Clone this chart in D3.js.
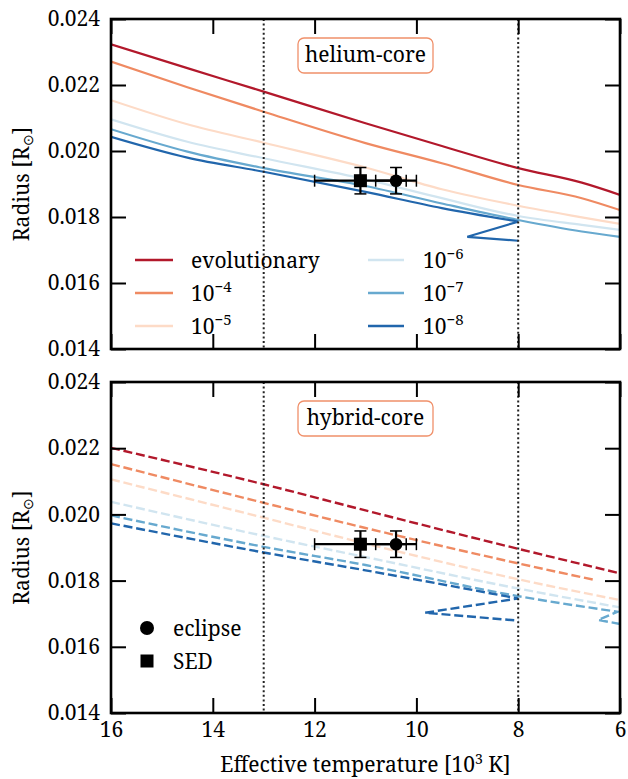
<!DOCTYPE html>
<html>
<head>
<meta charset="utf-8">
<script src="https://cdn.jsdelivr.net/npm/d3@7"></script>
<style>
  html, body { margin: 0; padding: 0; background: #fff; }
  svg { display: block; }
  svg text { font-family: "Noto Serif", "Liberation Serif", serif; }
</style>
</head>
<body>
<svg id="chart" width="628" height="779"></svg>
<script>
// ---- data -----------------------------------------------------------
// Effective temperature in 10^3 K, radius in solar radii.
const seriesColors = ["#b2182b", "#ef8a62", "#fddbc7", "#d1e5f0", "#67a9cf", "#2166ac"];
const seriesBase   = ["evolutionary", "10", "10", "10", "10", "10"];
const seriesExp    = ["", "\u22124", "\u22125", "\u22126", "\u22127", "\u22128"];

// helium-core tracks (solid)
const heTemp  = [16, 14.5, 13, 11, 9.5, 8, 6.75, 6];
const heEvol  = [0.02323, 0.02251, 0.02180, 0.02084, 0.02015, 0.01948, 0.01904, 0.01867];
const heM4    = [0.02271, 0.02193, 0.02119, 0.02024, 0.01963, 0.01897, 0.01857, 0.01821];
const heM5    = [0.02154, 0.02081, 0.02025, 0.01950, 0.01884, 0.01834, 0.01799, 0.01779];
const heM6    = [0.02096, 0.02028, 0.01978, 0.01914, 0.01857, 0.01803, 0.01776, 0.01761];
const heM7    = [0.02066, 0.01998, 0.01948, 0.01894, 0.01841, 0.01791, 0.01756, 0.01740];
const heM8Temp = [16, 14.5, 13, 11, 9.5, 8];
const heM8    = [0.02043, 0.01980, 0.01937, 0.01876, 0.01827, 0.01786];
const heM8TailTemp = [9.0, 8.0];
const heM8Tail     = [0.01740, 0.01728];

// hybrid-core tracks (dashed)
const hyTemp   = [16, 13, 11, 8, 6];
const hyEvol   = [0.02201, 0.02091, 0.02012, 0.01896, 0.01822];
const hyM4Temp = [16, 13, 11, 8, 6.5];
const hyM4     = [0.02152, 0.02035, 0.01959, 0.01852, 0.01802];
const hyM5     = [0.02106, 0.01990, 0.01912, 0.01804, 0.01741];
const hyM6     = [0.02038, 0.01935, 0.01871, 0.01776, 0.01719];
const hyM7Temp = [16, 13, 11, 8, 6.05];
const hyM7     = [0.01997, 0.01902, 0.01847, 0.01753, 0.01706];
const hyM7TailTemp = [6.43, 6.0];
const hyM7Tail     = [0.01681, 0.01669];
const hyM8Temp = [16, 13, 11, 8];
const hyM8     = [0.01973, 0.01885, 0.01831, 0.01746];
const hyM8TailTemp = [9.83, 8.0];
const hyM8Tail     = [0.01703, 0.01679];

// measurements: temperature, temp error, radius, radius error
const obsNames   = ["eclipse", "SED"];
const obsTemp    = [10.4, 11.1];
const obsTempErr = [0.4, 0.9];
const obsRad     = [0.0191, 0.0191];
const obsRadErr  = [0.0004, 0.0004];

const boundaryTemps = [13, 8];
const xTicks = [16, 14, 12, 10, 8, 6];
const yTicks = [0.014, 0.016, 0.018, 0.020, 0.022, 0.024];
const panelTags = ["helium-core", "hybrid-core"];

// ---- layout ---------------------------------------------------------
const FONT = '"Noto Serif", "Liberation Serif", serif';
const FS = 21;
const svg = d3.select("#chart");
const left = 111, right = 620;
const panels = [
  { top: 19, bottom: 349, dashed: false, tag: panelTags[0], xLabels: false,
    series: [
      { t: heTemp, r: heEvol }, { t: heTemp, r: heM4 }, { t: heTemp, r: heM5 },
      { t: heTemp, r: heM6 }, { t: heTemp, r: heM7 },
      { t: heM8Temp, r: heM8, tt: heM8TailTemp, tr: heM8Tail }
    ] },
  { top: 382, bottom: 713, dashed: true, tag: panelTags[1], xLabels: true,
    series: [
      { t: hyTemp, r: hyEvol }, { t: hyM4Temp, r: hyM4 }, { t: hyTemp, r: hyM5 },
      { t: hyTemp, r: hyM6 }, { t: hyM7Temp, r: hyM7, tt: hyM7TailTemp, tr: hyM7Tail },
      { t: hyM8Temp, r: hyM8, tt: hyM8TailTemp, tr: hyM8Tail }
    ] }
];

const x = d3.scaleLinear().domain([16, 6]).range([left, right]);

function textStyle(sel) {
  return sel.style("font-family", FONT).style("font-size", FS + "px").attr("fill", "#000");
}

function styleAxis(g) {
  g.select(".domain").remove();
  g.selectAll(".tick line").attr("stroke", "#000").attr("stroke-width", 2);
  g.selectAll("text").call(textStyle);
  g.attr("font-family", null).attr("font-size", null);
}

panels.forEach((p, pi) => {
  const y = d3.scaleLinear().domain([0.014, 0.024]).range([p.bottom, p.top]);
  const g = svg.append("g");
  const clipId = "clip" + pi;
  svg.append("clipPath").attr("id", clipId).append("rect")
    .attr("x", left).attr("y", p.top).attr("width", right - left).attr("height", p.bottom - p.top);

  const plot = g.append("g").attr("clip-path", `url(#${clipId})`);

  const smooth = d3.line().x(d => x(d[0])).y(d => y(d[1])).curve(d3.curveMonotoneX);
  const straight = d3.line().x(d => x(d[0])).y(d => y(d[1]));

  p.series.forEach((s, i) => {
    const pts = s.t.map((t, j) => [t, s.r[j]]);
    let d = smooth(pts);
    if (s.tt) {
      const tail = [pts[pts.length - 1]].concat(s.tt.map((t, j) => [t, s.tr[j]]));
      d += straight(tail).replace(/^M/, "L");
    }
    const path = plot.append("path").attr("d", d)
      .attr("fill", "none").attr("stroke", seriesColors[i])
      .attr("stroke-width", p.dashed ? 2.4 : 2.2).attr("stroke-linejoin", "miter");
    if (p.dashed) path.attr("stroke-dasharray", "9,3.8");
  });

  // boundary temperatures
  boundaryTemps.forEach(t => {
    g.append("line").attr("x1", x(t)).attr("x2", x(t))
      .attr("y1", p.top).attr("y2", p.bottom)
      .attr("stroke", "#222").attr("stroke-width", 2)
      .attr("stroke-dasharray", "2,2.6");
  });

  // measurements with error bars
  obsNames.forEach((name, k) => {
    const cx = x(obsTemp[k]), cy = y(obsRad[k]);
    const xl = x(obsTemp[k] + obsTempErr[k]), xr = x(obsTemp[k] - obsTempErr[k]);
    const yt = y(obsRad[k] + obsRadErr[k]), yb = y(obsRad[k] - obsRadErr[k]);
    const eb = g.append("g").attr("stroke", "#000");
    eb.append("line").attr("x1", xl).attr("x2", xr).attr("y1", cy).attr("y2", cy).attr("stroke-width", 2.2);
    eb.append("line").attr("x1", cx).attr("x2", cx).attr("y1", yt).attr("y2", yb).attr("stroke-width", 2.2);
    [xl, xr].forEach(xx => eb.append("line").attr("x1", xx).attr("x2", xx)
      .attr("y1", cy - 6).attr("y2", cy + 6).attr("stroke-width", 1.5));
    [yt, yb].forEach(yy => eb.append("line").attr("y1", yy).attr("y2", yy)
      .attr("x1", cx - 6).attr("x2", cx + 6).attr("stroke-width", 1.5));
    if (name === "eclipse") {
      g.append("circle").attr("cx", cx).attr("cy", cy).attr("r", 6.3).attr("fill", "#000");
    } else {
      g.append("rect").attr("x", cx - 6.5).attr("y", cy - 6.5).attr("width", 13).attr("height", 13).attr("fill", "#000");
    }
  });

  // axes with inward ticks on all sides
  g.append("g").attr("transform", `translate(${left},0)`)
    .call(d3.axisLeft(y).tickValues(yTicks).tickSize(-15).tickPadding(11).tickFormat(d3.format(".3f")))
    .call(styleAxis);
  g.append("g").attr("transform", `translate(${right},0)`)
    .call(d3.axisRight(y).tickValues(yTicks).tickSize(-15).tickFormat(""))
    .call(styleAxis);
  g.append("g").attr("transform", `translate(0,${p.top})`)
    .call(d3.axisTop(x).tickValues(xTicks).tickSize(-15).tickFormat(""))
    .call(styleAxis);
  g.append("g").attr("transform", `translate(0,${p.bottom})`)
    .call(d3.axisBottom(x).tickValues(xTicks).tickSize(-15).tickPadding(9)
      .tickFormat(p.xLabels ? d3.format("d") : ""))
    .call(styleAxis);

  g.append("rect").attr("x", left).attr("y", p.top)
    .attr("width", right - left).attr("height", p.bottom - p.top)
    .attr("fill", "none").attr("stroke", "#000").attr("stroke-width", 2.6);

  // panel tag
  const tcx = (left + right) / 2, tcy = p.top + 36.5;
  g.append("rect").attr("x", tcx - 67.5).attr("y", tcy - 17.5)
    .attr("width", 135).attr("height", 35).attr("rx", 6)
    .attr("fill", "#fff").attr("stroke", "#f0906a").attr("stroke-width", 1.3);
  g.append("text").attr("x", tcx).attr("y", tcy + 6.5)
    .attr("text-anchor", "middle").call(textStyle)
    .text(p.tag);

  // y label
  const yl = g.append("text")
    .attr("transform", `translate(29,${(p.top + p.bottom) / 2}) rotate(-90)`)
    .attr("text-anchor", "middle").call(textStyle);
  yl.append("tspan").text("Radius [R");
  yl.append("tspan").style("font-size", "14px").attr("dy", 4).text("\u2299");
  yl.append("tspan").attr("dy", -4).text("]");
});

// legend: model tracks (top panel)
const legCols = [{ x0: 135, x1: 173, tx: 191 }, { x0: 368, x1: 404, tx: 423 }];
const legRows = [260, 293, 326];
const leg = svg.append("g");
seriesColors.forEach((c, i) => {
  const col = legCols[Math.floor(i / 3)], ry = legRows[i % 3];
  leg.append("line").attr("x1", col.x0).attr("x2", col.x1).attr("y1", ry).attr("y2", ry)
    .attr("stroke", c).attr("stroke-width", 2.4);
  const t = leg.append("text").attr("x", col.tx).attr("y", ry + 7.5).call(textStyle);
  t.append("tspan").text(seriesBase[i]);
  if (seriesExp[i]) t.append("tspan").style("font-size", "15px").attr("dy", -8.5).text(seriesExp[i]);
});

// legend: measurements (bottom panel)
const leg2 = svg.append("g");
const leg2Rows = [628, 661];
obsNames.forEach((name, k) => {
  const ry = leg2Rows[k];
  if (name === "eclipse") {
    leg2.append("circle").attr("cx", 147).attr("cy", ry).attr("r", 7).attr("fill", "#000");
  } else {
    leg2.append("rect").attr("x", 140.5).attr("y", ry - 6.5).attr("width", 13).attr("height", 13).attr("fill", "#000");
  }
  leg2.append("text").attr("x", 173).attr("y", ry + 7.5).call(textStyle).text(name);
});

// x label
const xl = svg.append("text").attr("x", (left + right) / 2).attr("y", 772)
  .attr("text-anchor", "middle").call(textStyle);
xl.append("tspan").text("Effective temperature [10");
xl.append("tspan").style("font-size", "14px").attr("dy", -8.5).text("3");
xl.append("tspan").attr("dy", 8.5).text(" K]");
</script>
</body>
</html>
